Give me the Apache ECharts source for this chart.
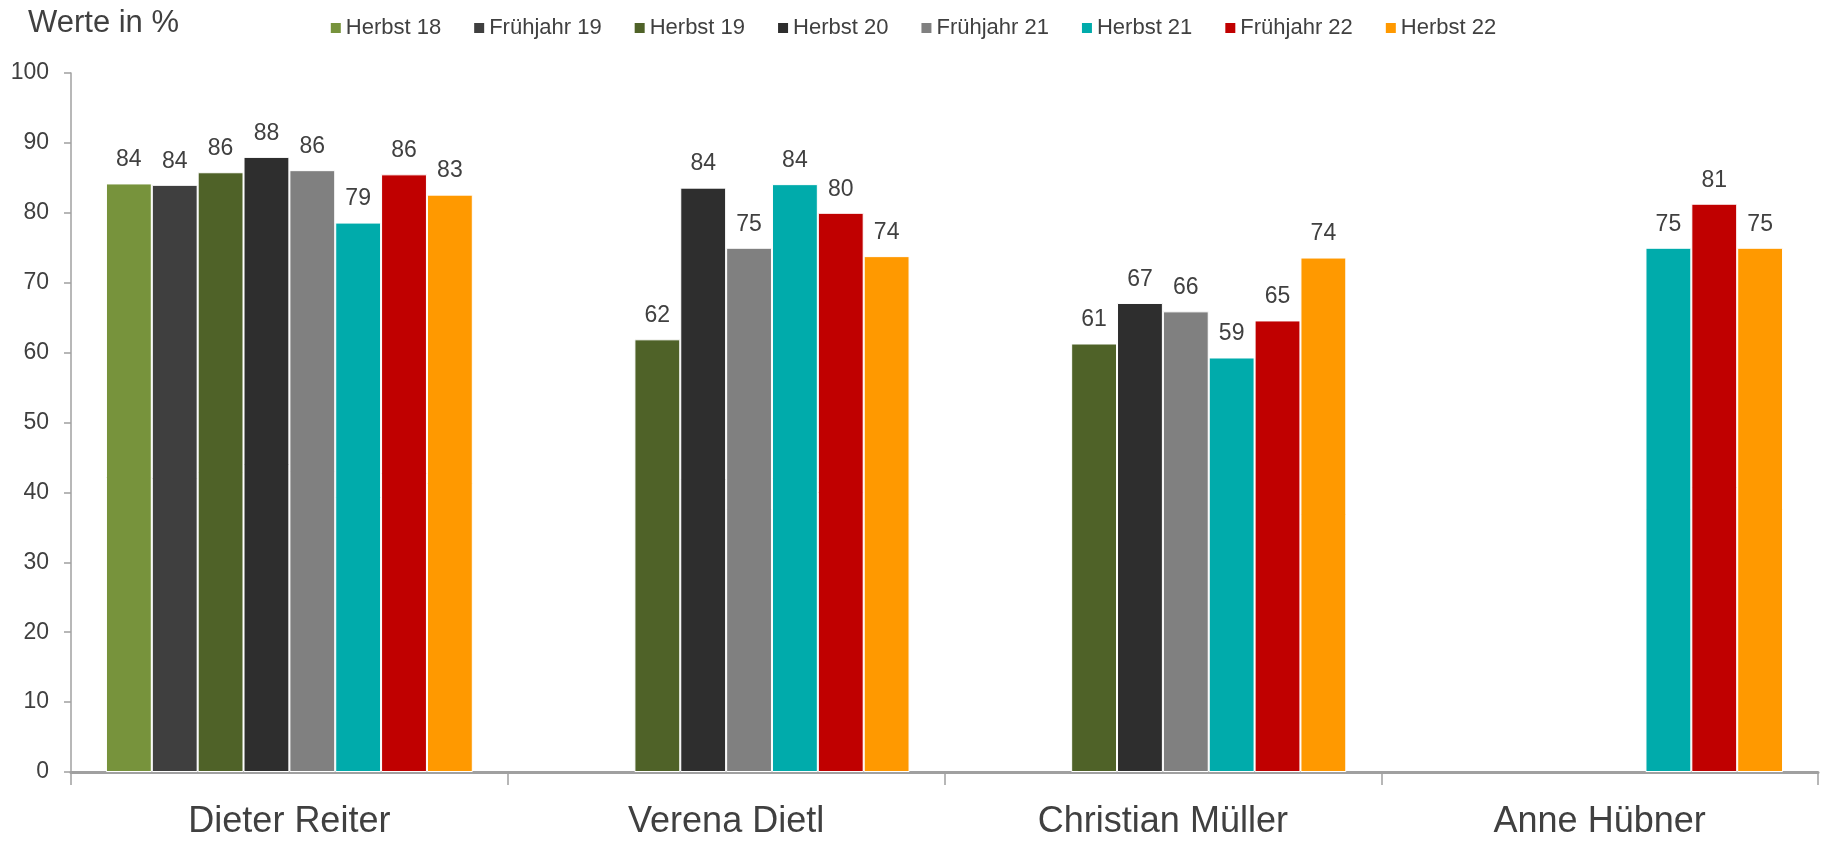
<!DOCTYPE html>
<html>
<head>
<meta charset="utf-8">
<script src="https://cdn.jsdelivr.net/npm/echarts@6/dist/echarts.min.js"></script>
<style>
  html, body { margin: 0; padding: 0; background: #fff; }
  #chart { width: 1825px; height: 842px; }
</style>
</head>
<body>
<div id="chart"></div>
<script>
  const names = ['Dieter Reiter', 'Verena Dietl', 'Christian Müller', 'Anne Hübner'];
  const waves = ['Herbst 18', 'Frühjahr 19', 'Herbst 19', 'Herbst 20', 'Frühjahr 21', 'Herbst 21', 'Frühjahr 22', 'Herbst 22'];
  const colors = ['#77933c', '#3f3f3f', '#4f6228', '#2e2e2e', '#808080', '#00abab', '#c00000', '#ff9900'];

  const herbst18 = [84.2, null, null, null];
  const fruehjahr19 = [84.0, null, null, null];
  const herbst19 = [85.8, 61.9, 61.3, null];
  const herbst20 = [88.0, 83.6, 67.1, null];
  const fruehjahr21 = [86.1, 75.0, 65.9, null];
  const herbst21 = [78.6, 84.1, 59.3, 75.0];
  const fruehjahr22 = [85.5, 80.0, 64.6, 81.3];
  const herbst22 = [82.6, 73.8, 73.6, 75.0];

  const seriesValues = [herbst18, fruehjahr19, herbst19, herbst20, fruehjahr21, herbst21, fruehjahr22, herbst22];

  // no narrow font available, so the narrow texts get a smaller size
  const font = '"Liberation Sans", Arial, sans-serif';

  const chart = echarts.init(document.getElementById('chart'));

  const option = {
    animation: false,
    title: {
      text: 'Werte in %',
      left: 23,
      top: 3,
      textStyle: { fontFamily: font, fontSize: 31, fontWeight: 'normal', color: '#404040' }
    },
    legend: {
      data: waves,
      left: 'center',
      top: 12,
      itemWidth: 12,
      itemHeight: 12,
      itemGap: 31,
      icon: 'rect',
      textStyle: { fontFamily: font, fontSize: 22, color: '#404040', padding: [0, 0, 0, -1] }
    },
    grid: {
      left: 71,
      right: 7,
      top: 73,
      bottom: 70,
      containLabel: false
    },
    xAxis: {
      type: 'category',
      data: names,
      axisLine: { lineStyle: { color: '#a0a0a0', width: 3 } },
      axisTick: { show: true, length: 13, interval: 0, lineStyle: { color: '#a0a0a0', width: 1.5 } },
      axisLabel: { fontFamily: font, fontSize: 36, color: '#404040', margin: 32 }
    },
    yAxis: {
      type: 'value',
      min: 0,
      max: 100,
      interval: 10,
      splitLine: { show: false },
      axisLine: { show: true, lineStyle: { color: '#a0a0a0', width: 1.5 } },
      axisTick: { show: true, length: 7, lineStyle: { color: '#a0a0a0', width: 1.5 } },
      axisLabel: { fontFamily: font, fontSize: 23, color: '#404040', margin: 22 }
    },
    series: waves.map(function (w, i) {
      return {
        name: w,
        type: 'bar',
        data: seriesValues[i],
        barGap: '0%',
        barCategoryGap: '16%',
        itemStyle: { color: colors[i], borderColor: '#ffffff', borderWidth: 1 },
        label: {
          show: true,
          position: 'top',
          distance: 12,
          fontFamily: font,
          fontSize: 23,
          color: '#404040',
          formatter: function (p) { return Math.round(p.value); }
        }
      };
    })
  };

  chart.setOption(option);

  window.addEventListener('resize', function () {
    chart.resize();
  });
</script>
</body>
</html>
